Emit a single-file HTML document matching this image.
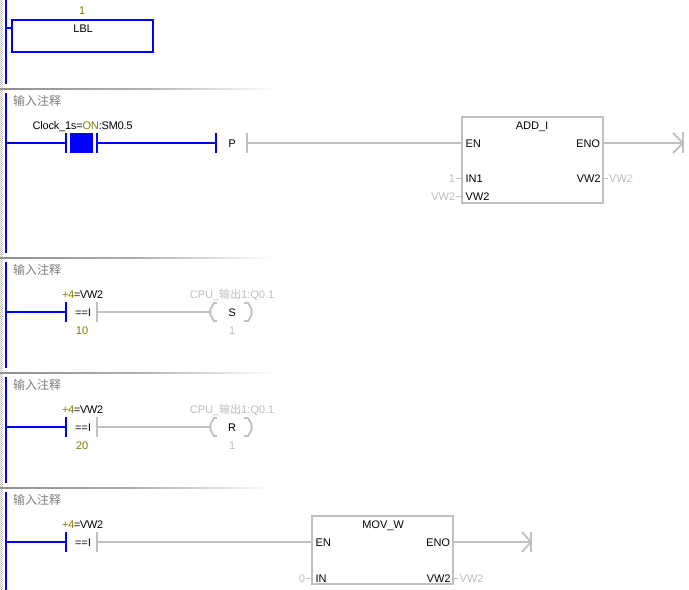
<!DOCTYPE html>
<html><head><meta charset="utf-8">
<style>
html,body{margin:0;padding:0;background:#fff;width:689px;height:590px;overflow:hidden}
svg{display:block}
text{font-family:"Liberation Sans","WenQuanYi Zen Hei","Noto Sans CJK SC",sans-serif;font-size:11px;fill:#000;text-rendering:geometricPrecision}
.g{fill:#c0c0c0}.o{fill:#808000}.c{fill:#808080;font-size:12px}
.b{stroke:#00f;stroke-width:2;fill:none;shape-rendering:crispEdges}
.s{stroke:#c0c0c0;stroke-width:2;fill:none}
.t{stroke:#c0c0c0;stroke-width:1;fill:none;shape-rendering:crispEdges}
.e{shape-rendering:crispEdges}
</style></head><body>
<svg width="689" height="590" viewBox="0 0 689 590" xmlns="http://www.w3.org/2000/svg">
<defs>
<linearGradient id="sep"><stop offset="0" stop-color="#909090"/><stop offset="0.5" stop-color="#b0b0b0"/><stop offset="1" stop-color="#fff"/></linearGradient>
<pattern id="dots" width="2" height="2" patternUnits="userSpaceOnUse"><rect width="2" height="2" fill="#fff"/><rect width="1" height="1" fill="#c0c0c0"/><rect x="1" y="1" width="1" height="1" fill="#c0c0c0"/></pattern>
</defs>
<rect x="0" y="0" width="3" height="590" fill="url(#dots)"/>

<!-- rails -->
<g fill="#00f" class="e">
<rect x="5" y="0" width="2" height="84"/>
<rect x="5" y="93" width="2" height="160"/>
<rect x="5" y="262" width="2" height="106"/>
<rect x="5" y="377" width="2" height="106"/>
<rect x="5" y="492" width="2" height="98"/>
</g>
<!-- separators -->
<g fill="url(#sep)" class="e">
<rect x="0" y="88" width="275" height="2"/>
<rect x="0" y="257" width="275" height="2"/>
<rect x="0" y="372" width="275" height="2"/>
<rect x="0" y="487" width="275" height="2"/>
</g>

<!-- network 1 -->
<text class="o" x="82" y="14" text-anchor="middle">1</text>
<path class="b" d="M6 28H12M12 20H153V52H12Z"/>
<text x="83" y="32" text-anchor="middle">LBL</text>

<!-- network 2 -->
<text class="c" x="13" y="105">输入注释</text>
<text x="32.500" y="129" textLength="100" lengthAdjust="spacing">Clock_1s=<tspan class="o">ON</tspan>:SM0.5</text>
<path class="b" d="M6 143H66M66 133V153M97 133V153M97 143H216M216 133V153"/>
<rect x="70" y="133" width="23" height="20" fill="#00f" class="e"/>
<text x="232" y="147" text-anchor="middle">P</text>
<path class="s e" d="M247 133V153M247 143H462M603 143H683M683 132V153"/>
<path class="s" d="M673 133L683 143L673 153"/>
<rect x="462" y="117" width="141" height="86" class="s e"/>
<text x="532" y="129" text-anchor="middle">ADD_I</text>
<text x="465.500" y="147">EN</text>
<text x="600" y="147" text-anchor="end">ENO</text>
<text x="465.500" y="182">IN1</text>
<text x="465.500" y="200">VW2</text>
<text x="600.500" y="182" text-anchor="end">VW2</text>
<path class="t" d="M456 178.500H461M456 196.500H461M604 178.500H608"/>
<text class="g" x="455" y="182" text-anchor="end">1</text>
<text class="g" x="455" y="200" text-anchor="end">VW2</text>
<text class="g" x="609" y="182">VW2</text>

<!-- network 3 -->
<text class="c" x="13" y="274">输入注释</text>
<text x="62" y="298" textLength="41" lengthAdjust="spacing"><tspan class="o">+4</tspan>=VW2</text>
<path class="b" d="M6 312H66M66 302V322"/>
<text x="75" y="316">==I</text>
<path class="s e" d="M97 302V322M97 312H210"/>
<path class="s" d="M217 303H214L210.500 309V315L214 321H217M244 303H248L251.500 309V315L248 321H244"/>
<text x="232" y="316" text-anchor="middle">S</text>
<text class="o" x="82" y="334" text-anchor="middle">10</text>
<text class="g" x="232" y="298" text-anchor="middle">CPU_输出1:Q0.1</text>
<text class="g" x="232" y="334" text-anchor="middle">1</text>

<!-- network 4 -->
<text class="c" x="13" y="389">输入注释</text>
<text x="62" y="413" textLength="41" lengthAdjust="spacing"><tspan class="o">+4</tspan>=VW2</text>
<path class="b" d="M6 427H66M66 417V437"/>
<text x="75" y="431">==I</text>
<path class="s e" d="M97 417V437M97 427H210"/>
<path class="s" d="M217 418H214L210.500 424V430L214 436H217M244 418H248L251.500 424V430L248 436H244"/>
<text x="232" y="431" text-anchor="middle">R</text>
<text class="o" x="82" y="449" text-anchor="middle">20</text>
<text class="g" x="232" y="413" text-anchor="middle">CPU_输出1:Q0.1</text>
<text class="g" x="232" y="449" text-anchor="middle">1</text>

<!-- network 5 -->
<text class="c" x="13" y="504">输入注释</text>
<text x="62" y="528" textLength="41" lengthAdjust="spacing"><tspan class="o">+4</tspan>=VW2</text>
<path class="b" d="M6 542H66M66 532V552"/>
<text x="75" y="546">==I</text>
<path class="s e" d="M97 532V552M97 542H312M453 542H531M531 532V552"/>
<path class="s" d="M522 532L531 542L522 552"/>
<rect x="312" y="516" width="141" height="68" class="s e"/>
<text x="383" y="528" text-anchor="middle">MOV_W</text>
<text x="315.500" y="546">EN</text>
<text x="450" y="546" text-anchor="end">ENO</text>
<text x="315.500" y="582">IN</text>
<text x="450.500" y="582" text-anchor="end">VW2</text>
<path class="t" d="M306 578.500H311M454 578.500H458"/>
<text class="g" x="305" y="582" text-anchor="end">0</text>
<text class="g" x="459.500" y="582">VW2</text>
</svg>
</body></html>
